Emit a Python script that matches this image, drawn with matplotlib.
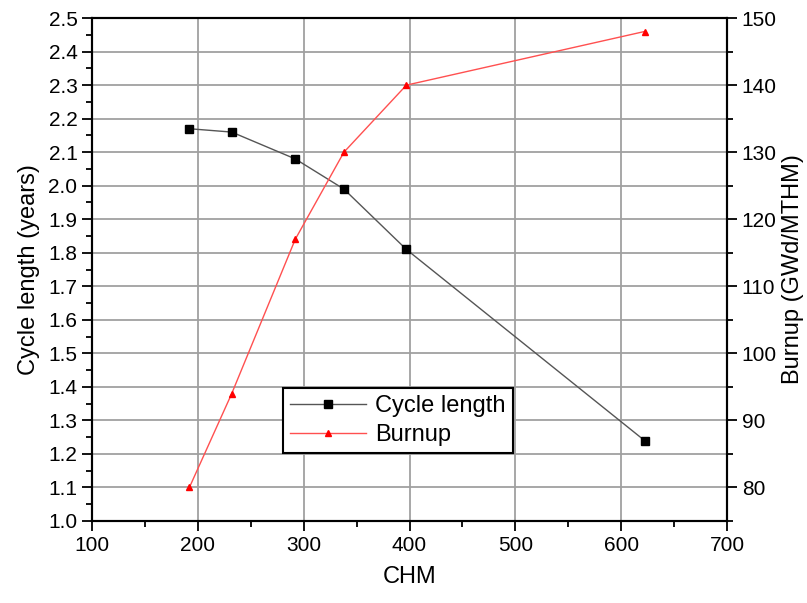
import matplotlib
matplotlib.use("Agg")
import matplotlib.pyplot as plt
from matplotlib.ticker import MultipleLocator

plt.rcParams['font.family'] = ['Liberation Sans Narrow', 'Liberation Sans', 'DejaVu Sans']

# data
chm = [192, 232, 292, 338, 397, 622]
cycle_length = [2.17, 2.16, 2.08, 1.99, 1.81, 1.24]
burnup = [80, 94, 117, 130, 140, 148]

fig = plt.figure(figsize=(8.07, 6.03), dpi=100)
ax = fig.add_axes([0.114, 0.136, 0.787, 0.834])
ax2 = ax.twinx()

l1, = ax.plot(chm, cycle_length, '-', color='#555555', lw=1.0,
              marker='s', ms=6, mfc='black', mec='black')
l2, = ax2.plot(chm, burnup, '-', color='#ff5050', lw=1.0,
               marker='^', ms=5, mfc='red', mec='red')

ax.set_xlim(100, 700)
ax.set_ylim(1.0, 2.5)
ax2.set_ylim(75, 150)

ax.xaxis.set_major_locator(MultipleLocator(100))
ax.xaxis.set_minor_locator(MultipleLocator(50))
ax.yaxis.set_major_locator(MultipleLocator(0.1))
ax.yaxis.set_minor_locator(MultipleLocator(0.05))
ax2.yaxis.set_major_locator(MultipleLocator(10))
ax2.yaxis.set_minor_locator(MultipleLocator(5))
ax2.set_yticks([80, 90, 100, 110, 120, 130, 140, 150])
ax.yaxis.set_major_formatter(matplotlib.ticker.FormatStrFormatter('%.1f'))

ax.grid(True, which='major', color='#a0a0a0', lw=1.3)
ax.set_axisbelow(True)

for a in (ax, ax2):
    a.tick_params(which='major', length=7, width=1.3, labelsize=15, direction='out')
    a.tick_params(which='minor', length=4, width=1.3, direction='out')
    for s in a.spines.values():
        s.set_linewidth(1.5)

ax.set_xlabel('CHM', fontsize=17, labelpad=8)
ax.set_ylabel('Cycle length (years)', fontsize=17, labelpad=6)
ax2.set_ylabel('Burnup (GWd/MTHM)', fontsize=17, labelpad=4)

leg = ax.legend([l1, l2], ['Cycle length', 'Burnup'], loc='upper left',
                bbox_to_anchor=(0.301, 0.265), borderaxespad=0, fontsize=17,
                frameon=True, fancybox=False, edgecolor='black', framealpha=1,
                handlelength=3.2, handletextpad=0.4, borderpad=0.3,
                labelspacing=0.3)
leg.get_frame().set_linewidth(1.5)

fig.savefig('out.png', dpi=100)
